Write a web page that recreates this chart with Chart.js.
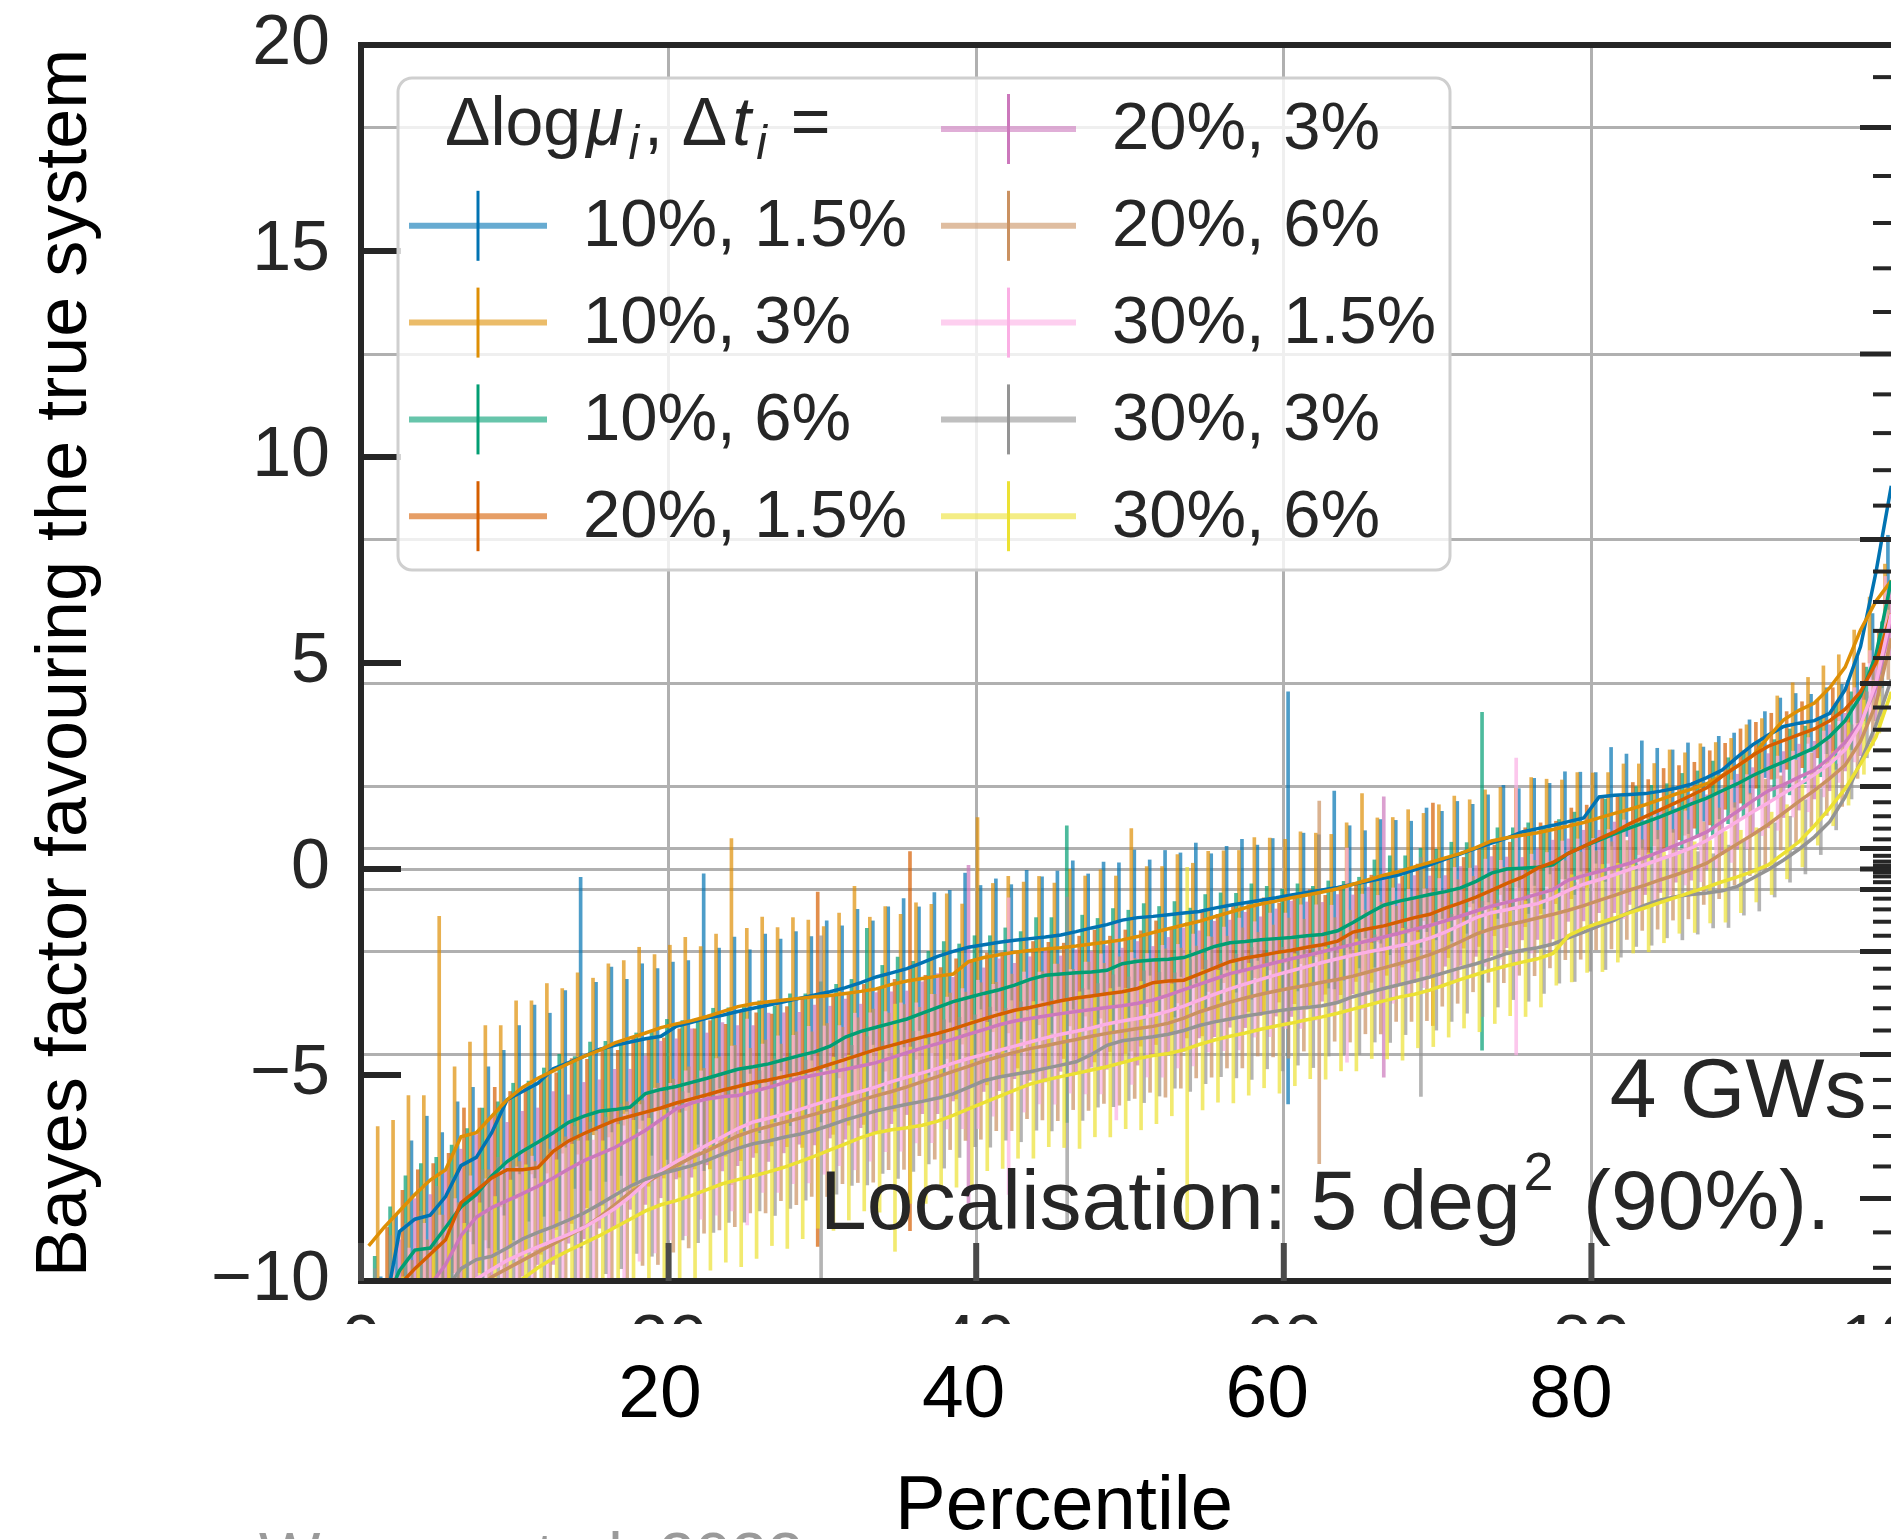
<!DOCTYPE html>
<html>
<head>
<meta charset="utf-8">
<script src="https://cdn.jsdelivr.net/npm/chart.js@4.4.1/dist/chart.umd.min.js"></script>
<style>
  html, body { margin: 0; padding: 0; background: #fff; overflow: hidden; }
  #wrap { width: 1891px; height: 1539px; overflow: hidden; position: relative; }
  canvas { display: block; }
</style>
</head>
<body>
<div id="wrap"><canvas id="chart" width="1960" height="1539"></canvas></div>
<script>
const INK = '#262626';
const GRID = '#b0b0b0';
const FONT = "'Liberation Sans', Arial, Helvetica, sans-serif";

// percentile of each sorted event
const percentiles = [0.5, 1.5, 2.5, 3.5, 4.5, 5.5, 6.5, 7.5, 8.5, 9.5,
  10.5, 11.5, 12.5, 13.5, 14.5, 15.5, 16.5, 17.5, 18.5, 19.5,
  20.5, 21.5, 22.5, 23.5, 24.5, 25.5, 26.5, 27.5, 28.5, 29.5,
  30.5, 31.5, 32.5, 33.5, 34.5, 35.5, 36.5, 37.5, 38.5, 39.5,
  40.5, 41.5, 42.5, 43.5, 44.5, 45.5, 46.5, 47.5, 48.5, 49.5,
  50.5, 51.5, 52.5, 53.5, 54.5, 55.5, 56.5, 57.5, 58.5, 59.5,
  60.5, 61.5, 62.5, 63.5, 64.5, 65.5, 66.5, 67.5, 68.5, 69.5,
  70.5, 71.5, 72.5, 73.5, 74.5, 75.5, 76.5, 77.5, 78.5, 79.5,
  80.5, 81.5, 82.5, 83.5, 84.5, 85.5, 86.5, 87.5, 88.5, 89.5,
  90.5, 91.5, 92.5, 93.5, 94.5, 95.5, 96.5, 97.5, 98.5, 99.5];

const seriesLabels = ['10%, 1.5%', '10%, 3%', '10%, 6%', '20%, 1.5%', '20%, 3%',
  '20%, 6%', '30%, 1.5%', '30%, 3%', '30%, 6%'];
const seriesColors = ['#0173b2', '#de8f05', '#029e73', '#d55e00', '#cc78bc',
  '#ca9161', '#fbafe4', '#949494', '#ece133'];

// ln Bayes factor per percentile
const bf10_1p5 = [-12.5, -10.8, -8.8, -8.5, -8.4, -7.95, -7.2, -7.0, -6.4, -5.6,
  -5.4, -5.2, -4.85, -4.7, -4.55, -4.38, -4.28, -4.2, -4.12, -4.06,
  -3.82, -3.72, -3.62, -3.55, -3.46, -3.38, -3.3, -3.22, -3.14, -3.06,
  -2.98, -2.88, -2.76, -2.62, -2.52, -2.42, -2.27, -2.12, -2.0, -1.9,
  -1.84, -1.78, -1.73, -1.69, -1.65, -1.6, -1.52, -1.43, -1.35, -1.24,
  -1.18, -1.15, -1.11, -1.07, -1.03, -0.95, -0.88, -0.82, -0.76, -0.7,
  -0.63, -0.57, -0.51, -0.45, -0.37, -0.3, -0.22, -0.14, -0.02, 0.1,
  0.24, 0.37, 0.5, 0.63, 0.75, 0.9, 0.98, 1.06, 1.15, 1.24,
  1.75, 1.79, 1.81, 1.83, 1.89, 1.96, 2.06, 2.22, 2.4, 2.72,
  3.02, 3.25, 3.46, 3.54, 3.6, 3.78, 4.35, 5.4, 7.2, 9.3];
const bf10_3 = [-9.15, -8.7, -8.3, -7.9, -7.55, -7.3, -6.5, -6.4, -6.0, -5.6,
  -5.3, -5.08, -4.9, -4.72, -4.55, -4.4, -4.22, -4.1, -3.98, -3.85,
  -3.76, -3.68, -3.58, -3.46, -3.34, -3.27, -3.22, -3.18, -3.14, -3.1,
  -3.07, -3.02, -2.97, -2.91, -2.8, -2.72, -2.66, -2.6, -2.55, -2.25,
  -2.15, -2.08, -2.02, -1.98, -1.94, -1.91, -1.87, -1.82, -1.77, -1.72,
  -1.64, -1.54, -1.45, -1.36, -1.27, -1.16, -1.05, -0.94, -0.85, -0.78,
  -0.7, -0.63, -0.56, -0.48, -0.37, -0.26, -0.15, -0.06, 0.05, 0.16,
  0.27, 0.38, 0.52, 0.68, 0.76, 0.82, 0.88, 0.96, 1.04, 1.13,
  1.24, 1.35, 1.45, 1.56, 1.69, 1.82, 1.94, 2.07, 2.27, 2.5,
  2.75, 3.2, 3.62, 3.85, 4.03, 4.4, 4.9, 5.8, 6.5, 7.0];
const bf10_6 = [-12.0, -10.6, -9.75, -9.25, -9.2, -8.7, -8.2, -7.9, -7.45, -7.1,
  -6.85, -6.63, -6.4, -6.15, -6.0, -5.88, -5.84, -5.78, -5.45, -5.35,
  -5.28, -5.18, -5.08, -4.97, -4.86, -4.8, -4.73, -4.63, -4.53, -4.44,
  -4.3, -4.08, -3.94, -3.84, -3.74, -3.64, -3.5, -3.36, -3.22, -3.12,
  -3.02, -2.93, -2.82, -2.68, -2.58, -2.55, -2.52, -2.5, -2.46, -2.3,
  -2.24, -2.21, -2.19, -2.15, -2.02, -1.88, -1.79, -1.76, -1.72, -1.69,
  -1.66, -1.62, -1.59, -1.5, -1.3, -1.08, -0.88, -0.78, -0.7, -0.62,
  -0.55, -0.46, -0.3, -0.1, 0.0, 0.02, 0.04, 0.1, 0.38, 0.55,
  0.7, 0.85, 1.0, 1.13, 1.27, 1.42, 1.58, 1.72, 1.9, 2.07,
  2.27, 2.44, 2.6, 2.77, 2.94, 3.22, 3.6, 4.2, 5.2, 7.0];
const bf20_1p5 = [-13.0, -11.2, -10.1, -9.7, -9.35, -9.0, -8.1, -7.8, -7.5, -7.3,
  -7.3, -7.25, -6.85, -6.6, -6.42, -6.26, -6.1, -6.0, -5.9, -5.8,
  -5.68, -5.58, -5.48, -5.37, -5.28, -5.19, -5.12, -5.04, -4.96, -4.86,
  -4.74, -4.62, -4.5, -4.38, -4.28, -4.18, -4.08, -3.99, -3.88, -3.76,
  -3.64, -3.53, -3.43, -3.36, -3.28, -3.2, -3.13, -3.08, -3.03, -2.98,
  -2.9, -2.76, -2.72, -2.7, -2.55, -2.4, -2.25, -2.16, -2.1, -2.03,
  -1.97, -1.9, -1.84, -1.75, -1.53, -1.45, -1.38, -1.28, -1.18, -1.1,
  -0.95, -0.82, -0.68, -0.52, -0.35, -0.2, 0.02, 0.16, 0.38, 0.55,
  0.73, 0.9, 1.1, 1.27, 1.44, 1.61, 1.79, 1.97, 2.25, 2.5,
  2.76, 2.98, 3.12, 3.26, 3.4, 3.6, 3.88, 4.3, 5.0, 6.2];
const bf20_3 = [-14.0, -12.6, -11.4, -10.5, -10.1, -9.6, -8.9, -8.45, -8.22, -8.05,
  -7.88, -7.7, -7.5, -7.28, -7.08, -6.92, -6.76, -6.56, -6.34, -6.08,
  -5.82, -5.68, -5.58, -5.53, -5.5, -5.4, -5.3, -5.19, -5.08, -5.0,
  -4.93, -4.86, -4.78, -4.7, -4.58, -4.46, -4.34, -4.24, -4.13, -4.01,
  -3.9, -3.78, -3.69, -3.63, -3.57, -3.51, -3.46, -3.41, -3.36, -3.32,
  -3.26, -3.18, -3.06, -2.93, -2.8, -2.67, -2.54, -2.45, -2.36, -2.27,
  -2.18, -2.1, -2.01, -1.92, -1.83, -1.74, -1.65, -1.56, -1.46, -1.37,
  -1.26, -1.14, -1.02, -0.9, -0.81, -0.72, -0.61, -0.5, -0.27, -0.16,
  -0.06, 0.04, 0.14, 0.28, 0.43, 0.58, 0.73, 0.9, 1.15, 1.4,
  1.66, 1.9, 2.05, 2.23, 2.4, 2.7, 3.08, 3.55, 4.4, 6.0];
const bf20_6 = [-14.5, -13.6, -12.9, -12.2, -11.6, -11.1, -10.6, -10.2, -9.9, -9.7,
  -9.5, -9.3, -9.1, -8.9, -8.7, -8.45, -8.15, -7.85, -7.62, -7.4,
  -7.2, -7.0, -6.84, -6.66, -6.48, -6.35, -6.25, -6.15, -6.05, -5.95,
  -5.85, -5.74, -5.61, -5.5, -5.4, -5.29, -5.16, -5.04, -4.91, -4.79,
  -4.66, -4.55, -4.45, -4.36, -4.29, -4.21, -4.14, -4.06, -3.99, -3.93,
  -3.87, -3.82, -3.74, -3.62, -3.47, -3.35, -3.23, -3.13, -3.04, -2.96,
  -2.89, -2.82, -2.75, -2.68, -2.6, -2.5, -2.4, -2.3, -2.2, -2.08,
  -1.93, -1.76, -1.58, -1.45, -1.36, -1.28, -1.19, -1.1, -1.0, -0.89,
  -0.76, -0.64, -0.51, -0.39, -0.26, -0.14, -0.01, 0.14, 0.38, 0.61,
  0.84, 1.08, 1.36, 1.64, 1.91, 2.2, 2.52, 3.1, 4.0, 5.6];
const bf30_1p5 = [-14.0, -13.1, -12.4, -11.7, -11.2, -10.8, -10.3, -9.95, -9.72, -9.5,
  -9.33, -9.17, -9.02, -8.87, -8.7, -8.48, -8.24, -7.95, -7.62, -7.32,
  -7.1, -6.9, -6.7, -6.5, -6.3, -6.14, -6.05, -5.95, -5.84, -5.72,
  -5.61, -5.5, -5.4, -5.29, -5.16, -5.05, -4.95, -4.84, -4.71, -4.6,
  -4.5, -4.4, -4.3, -4.2, -4.1, -4.01, -3.94, -3.86, -3.76, -3.69,
  -3.63, -3.55, -3.45, -3.33, -3.18, -3.04, -2.91, -2.79, -2.68, -2.57,
  -2.47, -2.37, -2.27, -2.18, -2.09, -2.01, -1.94, -1.86, -1.79, -1.68,
  -1.53, -1.36, -1.18, -1.06, -0.99, -0.91, -0.84, -0.7, -0.52, -0.37,
  -0.26, -0.14, -0.01, 0.11, 0.24, 0.37, 0.51, 0.69, 0.93, 1.16,
  1.39, 1.61, 1.84, 2.06, 2.29, 2.55, 2.9, 3.5, 4.5, 6.2];
const bf30_3 = [-13.0, -12.2, -11.5, -11.0, -10.6, -10.2, -9.7, -9.48, -9.4, -9.2,
  -8.98, -8.82, -8.68, -8.52, -8.35, -8.14, -7.92, -7.7, -7.53, -7.4,
  -7.3, -7.2, -7.07, -6.92, -6.78, -6.67, -6.6, -6.51, -6.44, -6.34,
  -6.22, -6.09, -5.98, -5.87, -5.79, -5.71, -5.64, -5.56, -5.46, -5.3,
  -5.14, -5.05, -4.98, -4.92, -4.84, -4.76, -4.68, -4.5, -4.28, -4.17,
  -4.12, -4.07, -4.01, -3.92, -3.8, -3.71, -3.64, -3.57, -3.51, -3.45,
  -3.4, -3.36, -3.32, -3.24, -3.1, -3.0, -2.9, -2.81, -2.72, -2.62,
  -2.51, -2.4, -2.3, -2.18, -2.05, -1.97, -1.91, -1.82, -1.67, -1.53,
  -1.38, -1.24, -1.04, -0.88, -0.75, -0.67, -0.62, -0.58, -0.53, -0.42,
  -0.22, -0.02, 0.22, 0.48, 0.78, 1.15, 1.75, 2.6, 3.5, 4.6];
const bf30_6 = [-14.5, -13.7, -13.2, -12.7, -12.2, -11.8, -11.4, -11.0, -10.6, -10.25,
  -9.95, -9.68, -9.45, -9.26, -9.08, -8.9, -8.7, -8.5, -8.3, -8.15,
  -8.05, -7.92, -7.78, -7.64, -7.54, -7.45, -7.35, -7.24, -7.11, -6.97,
  -6.82, -6.67, -6.52, -6.4, -6.33, -6.28, -6.22, -6.12, -5.98, -5.82,
  -5.67, -5.52, -5.37, -5.22, -5.12, -5.04, -4.96, -4.88, -4.8, -4.7,
  -4.6, -4.53, -4.48, -4.39, -4.26, -4.15, -4.06, -3.98, -3.89, -3.81,
  -3.74, -3.66, -3.59, -3.5, -3.4, -3.3, -3.2, -3.11, -3.04, -2.94,
  -2.81, -2.68, -2.56, -2.45, -2.35, -2.26, -2.18, -2.05, -1.62, -1.44,
  -1.31, -1.19, -1.06, -0.94, -0.81, -0.69, -0.56, -0.44, -0.31, -0.19,
  -0.06, 0.1, 0.38, 0.66, 1.05, 1.48, 1.95, 2.55, 3.2, 4.3];

// error bar half widths
const err10_1p5 = [2.6, 2.4, 2.2, 2.5, 2.0, 2.3, 1.9, 2.2, 2.0, 1.8,
  2.1, 1.7, 1.9, 4.5, 1.8, 2.0, 1.6, 1.9, 1.7, 1.8,
  1.6, 3.6, 1.7, 1.9, 1.5, 1.8, 1.6, 1.7, 1.5, 1.8,
  1.6, 1.9, 1.5, 1.7, 1.8, 1.5, 1.7, 1.6, 1.9, 1.5,
  1.6, 1.4, 1.7, 1.5, 1.6, 1.8, 1.4, 1.6, 1.5, 1.7,
  1.4, 1.6, 1.5, 1.7, 1.4, 1.5, 1.6, 1.4, 1.5, 5.0,
  1.5, 1.4, 2.4, 1.5, 1.3, 1.5, 1.4, 1.3, 1.5, 1.3,
  1.4, 1.2, 1.3, 1.4, 1.2, 1.3, 1.1, 1.3, 1.2, 1.1,
  1.2, 1.0, 1.3, 1.1, 1.0, 1.1, 0.9, 1.0, 0.9, 0.9,
  0.8, 0.9, 0.8, 0.7, 0.8, 0.7, 0.8, 0.8, 0.9, 1.0];
const err10_3 = [2.9, 2.6, 2.8, 2.4, 6.4, 2.5, 2.3, 2.6, 2.2, 2.4,
  2.1, 2.3, 2.0, 2.2, 1.9, 2.1, 2.0, 2.2, 1.9, 2.0,
  2.1, 1.8, 2.0, 4.2, 1.9, 2.1, 1.8, 2.0, 1.9, 1.7,
  2.0, 2.6, 1.8, 2.0, 1.7, 1.9, 1.8, 2.0, 1.7, 3.5,
  1.8, 1.9, 1.7, 1.8, 1.6, 1.9, 1.7, 1.8, 1.6, 2.7,
  1.7, 1.6, 1.8, 1.5, 1.7, 1.6, 1.5, 1.7, 1.6, 1.5,
  1.6, 1.5, 1.4, 1.6, 2.2, 1.5, 1.4, 1.5, 1.3, 1.4,
  1.5, 1.3, 1.4, 1.3, 1.2, 1.4, 1.3, 1.2, 1.3, 1.2,
  1.1, 1.2, 1.1, 1.0, 1.2, 1.0, 1.1, 1.0, 0.9, 1.0,
  0.9, 1.0, 0.9, 0.8, 0.9, 0.8, 0.9, 0.8, 0.9, 1.0];
const err10_6 = [2.6, 2.4, 2.3, 2.1, 2.2, 2.0, 1.9, 2.1, 1.8, 1.9,
  1.7, 1.8, 1.9, 1.6, 1.8, 1.7, 1.6, 1.8, 1.5, 1.7,
  1.6, 1.5, 1.7, 1.6, 1.5, 1.6, 1.4, 1.6, 1.5, 1.7,
  1.5, 1.4, 2.5, 1.5, 1.6, 1.4, 1.5, 1.6, 1.4, 1.5,
  1.4, 1.5, 1.3, 1.5, 1.4, 3.6, 1.4, 1.3, 1.5, 1.3,
  1.4, 1.3, 1.4, 1.2, 1.4, 1.3, 1.2, 1.4, 1.3, 1.2,
  1.3, 1.2, 1.3, 1.2, 1.1, 1.3, 1.2, 1.1, 1.2, 1.1,
  1.2, 1.1, 4.1, 1.1, 1.0, 1.1, 1.0, 1.1, 1.0, 0.9,
  1.0, 0.9, 1.0, 0.9, 0.8, 0.9, 0.8, 0.9, 0.8, 0.8,
  0.8, 0.7, 0.8, 0.7, 0.7, 0.8, 0.7, 0.7, 0.8, 0.9];
const err20_1p5 = [2.7, 2.5, 2.3, 2.4, 2.2, 2.1, 2.3, 2.0, 2.2, 1.9,
  2.0, 2.1, 1.9, 2.0, 1.8, 1.9, 1.7, 1.9, 1.8, 1.7,
  1.8, 1.7, 1.8, 1.6, 1.8, 1.7, 1.6, 1.7, 1.8, 4.3,
  1.7, 1.6, 1.7, 1.5, 1.6, 4.6, 1.5, 1.6, 1.7, 1.5,
  1.6, 1.5, 1.4, 1.6, 1.5, 1.4, 1.5, 1.6, 1.4, 1.5,
  1.4, 1.5, 1.3, 1.4, 1.5, 1.3, 1.4, 1.3, 1.4, 1.2,
  1.3, 1.4, 1.2, 1.3, 1.2, 1.3, 1.2, 1.1, 1.3, 2.7,
  1.2, 1.1, 1.2, 1.1, 1.0, 1.2, 1.1, 1.0, 1.1, 1.0,
  1.0, 0.9, 1.0, 0.9, 1.0, 0.9, 0.8, 0.9, 0.8, 0.9,
  0.8, 0.8, 0.7, 0.8, 0.7, 0.8, 0.7, 0.7, 0.8, 0.9];
const err20_3 = [2.8, 2.6, 2.4, 2.5, 2.2, 2.3, 2.1, 2.0, 2.2, 1.9,
  2.0, 1.9, 2.1, 1.8, 1.9, 1.8, 1.9, 1.7, 1.8, 1.9,
  1.7, 1.8, 1.6, 1.8, 1.7, 1.6, 1.8, 1.7, 1.6, 1.7,
  1.6, 1.7, 1.5, 1.7, 1.6, 1.5, 1.6, 1.7, 1.5, 4.1,
  1.5, 1.6, 1.4, 1.5, 1.6, 1.4, 1.5, 1.4, 1.5, 1.4,
  1.5, 1.3, 1.4, 1.5, 1.3, 1.4, 1.3, 1.4, 1.2, 1.3,
  1.4, 1.3, 1.2, 1.3, 1.2, 1.3, 3.4, 1.2, 1.3, 1.2,
  1.1, 1.2, 1.1, 1.2, 1.1, 1.0, 1.1, 1.2, 1.0, 1.1,
  1.0, 1.1, 1.0, 0.9, 1.0, 0.9, 1.0, 0.9, 0.8, 0.9,
  0.8, 0.9, 0.8, 0.8, 0.7, 0.8, 0.7, 0.8, 0.8, 0.9];
const err20_6 = [3.1, 2.9, 2.8, 2.7, 2.6, 2.7, 2.5, 2.4, 2.6, 2.3,
  2.4, 2.2, 2.3, 2.4, 2.2, 2.1, 2.3, 2.2, 2.0, 2.2,
  2.1, 2.2, 2.0, 2.1, 2.2, 2.0, 2.1, 1.9, 2.1, 2.0,
  2.1, 1.9, 2.0, 2.1, 1.9, 2.0, 1.8, 2.0, 1.9, 1.8,
  1.9, 1.8, 1.9, 1.7, 1.8, 1.9, 1.7, 1.8, 1.7, 1.8,
  1.7, 1.6, 1.8, 1.7, 1.6, 1.7, 1.6, 1.7, 1.5, 1.6,
  1.7, 1.6, 4.4, 1.5, 1.6, 1.5, 1.6, 1.4, 1.5, 1.6,
  1.4, 1.5, 1.4, 1.3, 1.4, 1.3, 1.4, 1.3, 1.2, 1.3,
  1.2, 1.3, 1.2, 1.1, 1.2, 1.1, 1.2, 1.0, 1.1, 1.0,
  1.0, 1.1, 0.9, 1.0, 0.9, 0.9, 1.0, 0.9, 1.0, 1.0];
const err30_1p5 = [2.9, 2.7, 2.8, 2.5, 2.6, 2.4, 2.3, 2.5, 2.2, 2.3,
  2.1, 2.2, 2.0, 2.2, 2.1, 1.9, 2.1, 2.0, 1.9, 2.0,
  1.9, 2.0, 1.8, 1.9, 2.0, 2.5, 1.8, 1.9, 1.8, 1.9,
  1.8, 1.7, 1.9, 1.8, 1.7, 1.8, 1.7, 1.8, 1.6, 1.7,
  1.8, 1.6, 3.6, 1.7, 1.6, 1.7, 1.5, 1.6, 1.7, 2.4,
  1.6, 1.5, 1.6, 1.5, 1.6, 1.4, 1.5, 1.6, 1.4, 1.5,
  1.4, 1.5, 1.4, 1.3, 2.6, 1.4, 1.3, 1.4, 1.3, 1.2,
  1.3, 1.4, 1.2, 1.3, 1.2, 3.6, 1.2, 1.1, 1.2, 1.1,
  1.0, 1.1, 1.2, 1.0, 1.1, 1.0, 0.9, 1.0, 0.9, 1.0,
  0.9, 0.8, 0.9, 0.8, 0.9, 0.8, 0.8, 0.9, 0.8, 0.9];
const err30_3 = [2.7, 2.5, 2.6, 2.4, 2.3, 2.5, 2.2, 2.3, 2.1, 2.2,
  2.0, 2.1, 2.2, 1.9, 2.1, 2.0, 1.9, 2.0, 1.8, 2.0,
  1.9, 1.8, 2.0, 1.9, 1.8, 1.9, 1.7, 1.9, 1.8, 1.7,
  4.6, 1.8, 1.7, 1.8, 1.6, 1.8, 1.7, 1.6, 1.8, 1.7,
  1.6, 1.7, 1.6, 1.7, 1.5, 1.6, 4.0, 1.6, 1.5, 1.6,
  1.5, 1.6, 1.5, 1.4, 1.6, 1.5, 1.4, 1.5, 1.6, 1.4,
  1.5, 1.4, 1.5, 1.3, 1.4, 1.5, 1.3, 1.4, 1.3, 2.9,
  1.4, 1.3, 1.2, 1.4, 1.3, 1.2, 1.3, 1.2, 1.1, 1.2,
  1.1, 1.2, 1.1, 1.0, 1.1, 1.0, 1.1, 1.0, 0.9, 1.0,
  0.9, 1.0, 0.9, 0.8, 0.9, 0.8, 0.8, 0.9, 0.8, 0.9];
const err30_6 = [2.9, 2.8, 2.7, 2.8, 2.6, 2.5, 2.7, 2.4, 2.5, 2.3,
  2.4, 2.5, 2.3, 2.2, 2.4, 2.3, 2.1, 2.3, 2.2, 2.1,
  2.2, 2.0, 2.2, 2.1, 2.0, 2.2, 2.1, 1.9, 2.1, 2.0,
  1.9, 2.1, 2.0, 1.9, 2.0, 3.0, 1.9, 2.0, 1.8, 1.9,
  2.0, 1.8, 1.9, 1.8, 1.9, 1.7, 1.8, 1.9, 1.7, 1.8,
  1.7, 1.8, 1.7, 1.6, 4.3, 1.7, 1.6, 1.7, 1.6, 1.5,
  1.7, 1.6, 1.5, 1.6, 1.5, 1.6, 1.4, 1.5, 1.6, 1.4,
  1.5, 1.4, 1.3, 1.5, 1.4, 1.3, 1.4, 1.3, 1.2, 1.3,
  1.2, 1.3, 1.2, 1.1, 1.2, 1.1, 1.0, 1.1, 1.0, 1.1,
  1.0, 0.9, 1.0, 0.9, 1.0, 0.9, 0.9, 1.0, 0.9, 1.0];

const seriesValues = [bf10_1p5, bf10_3, bf10_6, bf20_1p5, bf20_3, bf20_6, bf30_1p5, bf30_3, bf30_6];
const seriesErrors = [err10_1p5, err10_3, err10_6, err20_1p5, err20_3, err20_6, err30_1p5, err30_3, err30_6];

// axis ticks
const cutTickLabels = [0, 20, 40, 60, 80, 100];
const lowerTickLabels = [20, 40, 60, 80];
const sigmaGrid = [-3, -2, -1, 0, 1, 2, 3, 4, 5, 6];
const sigmaMajor = [-4, -3, -2, -1, 0, 1, 2, 3, 4, 5, 6];
const sigmaMinor = [-4.4, -4.2, -3.8, -3.6, -3.4, -3.2, -2.8, -2.6, -2.4, -2.2,
  -1.8, -1.6, -1.4, -1.2, -0.8, -0.6, -0.4, -0.2, 0.2, 0.4, 0.6, 0.8,
  1.2, 1.4, 1.6, 1.8, 2.2, 2.4, 2.6, 2.8, 3.2, 3.4, 3.6, 3.8,
  4.2, 4.4, 4.6, 4.8, 5.2, 5.4, 5.6, 5.8, 6.2];
const sigmaToLnB = s => Math.sign(s) * s * s / 2;

const yTitle = 'Bayes factor favouring the true system';

const hexToRgba = (hex, a) => {
    const n = parseInt(hex.slice(1), 16);
    return `rgba(${(n >> 16) & 255}, ${(n >> 8) & 255}, ${n & 255}, ${a})`;
};

const errorBarSets = seriesValues.map((vals, k) => ({
    type: 'bar',
    label: seriesLabels[k],
    data: percentiles.map((p, i) => ({ x: p, y: [vals[i] - seriesErrors[k][i], vals[i] + seriesErrors[k][i]] })),
    backgroundColor: hexToRgba(seriesColors[k], 0.7),
    borderWidth: 0,
    barThickness: 3,
    order: 30 - k,
}));

const lineSets = seriesValues.map((vals, k) => ({
    type: 'line',
    label: seriesLabels[k],
    data: percentiles.map((p, i) => ({ x: p, y: vals[i] })),
    borderColor: seriesColors[k],
    borderWidth: 3.5,
    pointRadius: 0,
    tension: 0,
    fill: false,
    order: 10 - k,
}));

const drawLine = (ctx, x1, y1, x2, y2) => {
    ctx.beginPath();
    ctx.moveTo(x1, y1);
    ctx.lineTo(x2, y2);
    ctx.stroke();
};

const drawLegend = (ctx, a) => {
    const lx = a.left + 37, ly = a.top + 33;
    ctx.fillStyle = 'rgba(255,255,255,0.8)';
    ctx.strokeStyle = '#cfcfcf';
    ctx.lineWidth = 3;
    ctx.beginPath();
    ctx.roundRect(lx, ly, 1052, 492, 14);
    ctx.fill();
    ctx.stroke();

    const rowY = k => ly + 51 + 96.8 * k;
    const cols = [
        { h0: a.left + 48, h1: a.left + 186, tx: a.left + 222 },
        { h0: a.left + 580, h1: a.left + 715, tx: a.left + 751 },
    ];

    // title: Δlogμ_i, Δt_i =
    const parts = [
        { t: 'Δlog', f: `68px ${FONT}`, dy: 0 },
        { t: 'μ', f: `italic 68px ${FONT}`, dy: 0 },
        { t: 'i', f: `italic 48px ${FONT}`, dy: 14 },
        { t: ', Δ', f: `68px ${FONT}`, dy: 0 },
        { t: 't', f: `italic 68px ${FONT}`, dy: 0 },
        { t: 'i', f: `italic 48px ${FONT}`, dy: 14 },
        { t: ' =', f: `68px ${FONT}`, dy: 0 },
    ];
    let tx = a.left + 84;
    const tb = rowY(0) + 16;
    ctx.fillStyle = INK;
    ctx.textBaseline = 'alphabetic';
    ctx.textAlign = 'left';
    parts.forEach(p => {
        ctx.font = p.f;
        ctx.fillText(p.t, tx, tb + p.dy);
        tx += ctx.measureText(p.t).width + 5;
    });

    seriesLabels.forEach((lab, k) => {
        const col = k < 4 ? cols[0] : cols[1];
        const row = k < 4 ? k + 1 : k - 4;
        const cy = rowY(row);
        const cx = (col.h0 + col.h1) / 2;
        ctx.strokeStyle = hexToRgba(seriesColors[k], 0.6);
        ctx.lineWidth = 6;
        drawLine(ctx, col.h0, cy, col.h1, cy);
        ctx.strokeStyle = seriesColors[k];
        ctx.lineWidth = 3;
        drawLine(ctx, cx, cy - 35, cx, cy + 35);
        ctx.fillStyle = INK;
        ctx.font = `67px ${FONT}`;
        ctx.textBaseline = 'middle';
        ctx.fillText(lab, col.tx, cy + 2);
    });
};

const figureDecor = {
    id: 'figureDecor',
    afterDatasetsDraw(chart) {
        const { ctx, chartArea: a } = chart;
        const { x, y } = chart.scales;
        ctx.save();
        ctx.lineCap = 'butt';
        ctx.strokeStyle = INK;
        ctx.lineWidth = 6;
        // frame
        drawLine(ctx, a.left - 3, a.top, a.right, a.top);
        drawLine(ctx, a.left, a.top - 3, a.left, a.bottom + 3);
        drawLine(ctx, a.left - 3, a.bottom, a.right, a.bottom);

        // inward ticks
        y.ticks.forEach(t => {
            const py = y.getPixelForValue(t.value);
            drawLine(ctx, a.left, py, a.left + 40, py);
        });
        ctx.strokeStyle = '#4a4a4a';
        x.ticks.forEach(t => {
            const px = x.getPixelForValue(t.value);
            drawLine(ctx, px, a.bottom, px, a.bottom - 38);
        });
        ctx.strokeStyle = INK;
        ctx.lineWidth = 5;
        sigmaMajor.forEach(s => {
            const py = y.getPixelForValue(sigmaToLnB(s));
            drawLine(ctx, a.right - 39, py, a.right, py);
        });
        ctx.lineWidth = 4;
        sigmaMinor.forEach(s => {
            const py = y.getPixelForValue(sigmaToLnB(s));
            drawLine(ctx, a.right - 26, py, a.right, py);
        });

        // annotations
        ctx.fillStyle = INK;
        ctx.textAlign = 'left';
        ctx.textBaseline = 'alphabetic';
        ctx.font = `84px ${FONT}`;
        ctx.fillText('4 GWs', x.getPixelForValue(81.2), y.getPixelForValue(-6.02));
        let px = x.getPixelForValue(29.85);
        const py = y.getPixelForValue(-8.74);
        const s1 = 'Localisation: 5 deg';
        ctx.fillText(s1, px, py);
        px += ctx.measureText(s1).width + 3;
        ctx.font = `54px ${FONT}`;
        ctx.fillText('2', px, py - 39);
        px += ctx.measureText('2').width + 6;
        ctx.font = `84px ${FONT}`;
        ctx.fillText(' (90%).', px, py);

        drawLegend(ctx, a);
        ctx.restore();
    },
    afterDraw(chart) {
        const { ctx, chartArea: a } = chart;
        const { x } = chart.scales;
        ctx.save();
        // tick labels of the upper panel, mostly hidden below the axis
        ctx.beginPath();
        ctx.rect(0, a.bottom + 5, chart.width, 38);
        ctx.clip();
        ctx.font = `70px ${FONT}`;
        ctx.fillStyle = INK;
        ctx.textAlign = 'center';
        ctx.textBaseline = 'alphabetic';
        cutTickLabels.forEach(v => ctx.fillText(String(v), x.getPixelForValue(v), a.bottom + 83));
        ctx.restore();

        ctx.save();
        ctx.fillStyle = '#000';
        ctx.textAlign = 'center';
        ctx.textBaseline = 'alphabetic';
        ctx.font = `76px ${FONT}`;
        ctx.fillText('Percentile', 1064, 1529);
        ctx.fillStyle = '#9a9a9a';
        ctx.textAlign = 'left';
        ctx.font = `65px ${FONT}`;
        ctx.fillText('Wempe et al. 2022', 259, 1578);
        ctx.restore();
    },
};

Chart.defaults.font.family = FONT;
Chart.defaults.color = INK;

new Chart(document.getElementById('chart'), {
    type: 'line',
    data: { datasets: [...errorBarSets, ...lineSets] },
    options: {
        responsive: false,
        animation: false,
        devicePixelRatio: 1,
        events: [],
        layout: { padding: { top: 45, right: 61, bottom: 0, left: 0 } },
        plugins: { legend: { display: false }, tooltip: { enabled: false } },
        scales: {
            x: {
                type: 'linear', position: 'bottom', min: 0, max: 100, offset: false,
                ticks: { stepSize: 20, display: false },
                grid: { color: GRID, lineWidth: 3, drawTicks: false, offset: false },
                border: { display: true, color: INK, width: 6 },
                afterFit: s => { s.height = 70; },
            },
            x2: {
                type: 'linear', position: 'bottom', min: 0.31, max: 101.61, offset: false,
                afterBuildTicks: s => { s.ticks = lowerTickLabels.map(v => ({ value: v })); },
                ticks: { font: { size: 75 }, color: '#000', padding: 0, maxRotation: 0, autoSkip: false },
                grid: { display: false, drawTicks: false, offset: false },
                border: { display: false },
                afterFit: s => { s.height = 188; },
            },
            y: {
                type: 'linear', position: 'left', min: -10, max: 20,
                ticks: {
                    stepSize: 5, padding: 31, font: { size: 70 }, color: INK,
                    callback: v => (v < 0 ? '\u2212' + Math.abs(v) : String(v)),
                },
                grid: { display: false, drawTicks: false },
                border: { display: true, color: INK, width: 6 },
                title: { display: true, text: yTitle, color: '#000', font: { size: 72 }, padding: { top: 23, bottom: 0 } },
                afterFit: s => { s.width = 361; s.paddingTop = 40; s.paddingBottom = 40; },
            },
            y2: {
                type: 'linear', position: 'right', min: -10, max: 20,
                afterBuildTicks: s => { s.ticks = sigmaGrid.map(v => ({ value: sigmaToLnB(v) })); },
                ticks: { display: false },
                grid: { color: GRID, lineWidth: 3, drawTicks: false },
                border: { display: false },
                afterFit: s => { s.width = 0; },
            },
        },
    },
    plugins: [figureDecor],
});
</script>
</body>
</html>
